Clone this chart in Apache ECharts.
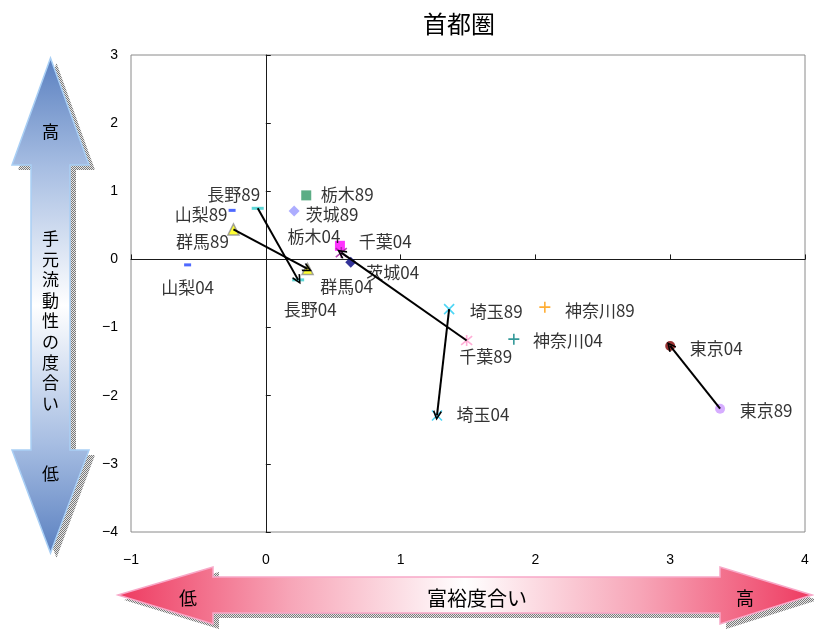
<!DOCTYPE html>
<html>
<head>
<meta charset="utf-8">
<script src="https://cdn.jsdelivr.net/npm/echarts@6/dist/echarts.min.js"></script>
<style>
  html, body { margin: 0; padding: 0; background: #fff; }
  #chart { width: 814px; height: 629px; }
</style>
</head>
<body>
<div id="chart"></div>
<script>
// Prefectures of the capital region, 1989 vs 2004
const prefectures = ['茨城', '栃木', '群馬', '埼玉', '千葉', '東京', '神奈川', '山梨', '長野'];
const wealth1989 = [0.21, 0.30, -0.24, 1.36, 1.49, 3.37, 2.07, -0.25, -0.06];
const liquidity1989 = [0.71, 0.94, 0.44, -0.73, -1.19, -2.19, -0.70, 0.72, 0.75];
const wealth2004 = [0.63, 0.55, 0.31, 1.27, 0.56, 3.00, 1.84, -0.58, 0.24];
const liquidity2004 = [-0.04, 0.20, -0.14, -2.29, 0.10, -1.27, -1.17, -0.08, -0.30];
// prefectures whose shift from 1989 to 2004 is drawn as an arrow
const movedPrefectures = ['群馬', '長野', '千葉', '埼玉', '東京'];
const xTicks = [-1, 0, 1, 2, 3, 4];
const yTicks = [-4, -3, -2, -1, 0, 1, 2, 3];
const yearSuffix = ['89', '04'];

// marker shapes
const SYM_X = 'path://M0,0L10,10M10,0L0,10';
const SYM_STAR = 'path://M1,1L9,9M9,1L1,9M5,0L5,10';
const SYM_PLUS = 'path://M5,0L5,10M0,5L10,5';

const markerStyle = {
  '茨城':   { symbol: 'diamond', size: 11, colors: ['#9999FF', '#000080'] },
  '栃木':   { symbol: 'rect', size: 10, colors: ['#339966', '#FF00FF'] },
  '群馬':   { symbol: 'triangle', size: 11, colors: ['#FFFF00', '#FFFF00'], border: '#8C8C8C' },
  '埼玉':   { symbol: SYM_X, size: 10, colors: ['#22CCF2', '#22CCF2'], stroke: true },
  '千葉':   { symbol: SYM_STAR, size: 11, colors: ['#FF99CC', '#A020A0'], stroke: true },
  '東京':   { symbol: 'circle', size: 10, colors: ['#CC99FF', '#800000'] },
  '神奈川': { symbol: SYM_PLUS, size: 11, colors: ['#FF9900', '#008080'], stroke: true },
  '山梨':   { symbol: 'rect', size: [7, 3], colors: ['#2244FF', '#2244FF'] },
  '長野':   { symbol: 'rect', size: [12, 3], colors: ['#33CCCC', '#33CCCC'] }
};

// label centre relative to the marker centre, [dx, dy] in px
const labelOffset = {
  '栃木89': [41, -1], '茨城89': [38, 3], '長野89': [-24, -14], '山梨89': [-31, 4],
  '群馬89': [-31, 12], '山梨04': [0, 23], '長野04': [12, 30], '群馬04': [39, 18],
  '栃木04': [-26, -9], '千葉04': [44, -11], '茨城04': [42, 10], '埼玉89': [47, 2],
  '神奈川89': [55, 3], '千葉89': [19, 16], '神奈川04': [54, 1], '埼玉04': [46, -1],
  '東京04': [46, 3], '東京89': [46, 2]
};

const LABEL_FONT = '"Noto Sans CJK JP", "Noto Sans", sans-serif';

function makePoint(pref, yearIdx, x, y) {
  const st = markerStyle[pref];
  const name = pref + yearSuffix[yearIdx];
  const color = st.colors[yearIdx];
  const itemStyle = st.stroke
    ? { color: 'rgba(0,0,0,0)', borderColor: color, borderWidth: 1.6 }
    : { color: color, borderColor: st.border || color, borderWidth: st.border ? 1.5 : 0 };
  return {
    name: name,
    value: [x, y],
    symbol: st.symbol,
    symbolSize: st.size,
    itemStyle: itemStyle,
    label: {
      show: true,
      position: 'inside',
      offset: labelOffset[name] || [30, 0],
      formatter: name,
      color: '#000',
      fontSize: 17,
      fontFamily: LABEL_FONT
    }
  };
}

const points = [];
prefectures.forEach((p, i) => {
  points.push(makePoint(p, 0, wealth1989[i], liquidity1989[i]));
  points.push(makePoint(p, 1, wealth2004[i], liquidity2004[i]));
});

const shiftLines = movedPrefectures.map(p => {
  const i = prefectures.indexOf(p);
  return [
    { coord: [wealth1989[i], liquidity1989[i]] },
    { coord: [wealth2004[i], liquidity2004[i]] }
  ];
});

// open (chevron) arrow head, pointing up before rotation
const ARROW_HEAD = 'path://M5,0L10,9L8.6,10.2L5,3.6L1.4,10.2L0,9Z';

const minus = v => String(v).replace('-', '\u2212');

// hatched fill used for the drop shadows of the two big arrows
const hatch = document.createElement('canvas');
hatch.width = 2; hatch.height = 2;
(function () {
  const c = hatch.getContext('2d');
  c.fillStyle = '#E6E6E6'; c.fillRect(0, 0, 2, 2);
  c.fillStyle = '#7A7A7A'; c.fillRect(0, 0, 1, 1); c.fillRect(1, 1, 1, 1);
})();

function shifted(pts, dx, dy) { return pts.map(p => [p[0] + dx, p[1] + dy]); }

const vArrow = [[50.5, 58], [89, 165], [70, 165], [70, 450], [89, 450], [50.5, 553],
                [12, 450], [31, 450], [31, 165], [12, 165]];
const hArrow = [[118, 595], [213, 567], [213, 577], [720, 577], [720, 567], [812, 595],
                [720, 624], [720, 613], [213, 613], [213, 624]];

const JP_FONT = '"Noto Sans CJK JP", sans-serif';

const chart = echarts.init(document.getElementById('chart'), null, { renderer: 'canvas' });
chart.setOption({
  animation: false,
  backgroundColor: '#fff',
  grid: {
    left: 131, right: 9, top: 55, bottom: 97,
    show: true, borderColor: '#8A8A8A', borderWidth: 1, backgroundColor: 'transparent'
  },
  xAxis: [
    {
      type: 'value', min: xTicks[0], max: xTicks[xTicks.length - 1], interval: 1,
      position: 'bottom',
      axisLine: { show: false, onZero: false },
      axisTick: { show: false },
      splitLine: { show: false },
      axisLabel: { formatter: minus, color: '#000', fontSize: 14, margin: 21,
                   fontFamily: 'Liberation Sans, Arial, sans-serif' }
    },
    {
      type: 'value', min: xTicks[0], max: xTicks[xTicks.length - 1], interval: 1,
      position: 'bottom',
      axisLine: { show: true, onZero: true, lineStyle: { color: '#1A1A1A', width: 1 } },
      axisTick: { show: true, inside: true, length: 5, lineStyle: { color: '#1A1A1A' } },
      splitLine: { show: false },
      axisLabel: { show: false }
    }
  ],
  yAxis: [
    {
      type: 'value', min: yTicks[0], max: yTicks[yTicks.length - 1], interval: 1,
      position: 'left',
      axisLine: { show: false, onZero: false },
      axisTick: { show: false },
      splitLine: { show: false },
      axisLabel: { formatter: minus, color: '#000', fontSize: 14, margin: 13,
                   fontFamily: 'Liberation Sans, Arial, sans-serif' }
    },
    {
      type: 'value', min: yTicks[0], max: yTicks[yTicks.length - 1], interval: 1,
      position: 'left',
      axisLine: { show: true, onZero: true, lineStyle: { color: '#1A1A1A', width: 1 } },
      axisTick: { show: true, inside: true, length: 5, lineStyle: { color: '#1A1A1A' } },
      splitLine: { show: false },
      axisLabel: { show: false }
    }
  ],
  series: [
    {
      type: 'scatter',
      xAxisIndex: 0, yAxisIndex: 0,
      data: points,
      z: 3,
      emphasis: { disabled: true },
      markLine: {
        silent: true,
        animation: false,
        symbol: ['none', ARROW_HEAD],
        symbolSize: [9, 10],
        lineStyle: { color: '#000', width: 2, type: 'solid' },
        label: { show: false },
        emphasis: { disabled: true },
        data: shiftLines
      }
    }
  ],
  graphic: [
    // title
    { type: 'text', x: 459, y: 24, z: 10,
      style: { text: '首都圏', fontSize: 24, fontFamily: JP_FONT, fill: '#000',
               align: 'center', verticalAlign: 'middle' } },
    // vertical arrow: liquidity
    { type: 'polygon', z: 1, shape: { points: shifted(vArrow, 6, 5) },
      style: { fill: { image: hatch, repeat: 'repeat' } } },
    { type: 'polygon', z: 2, shape: { points: vArrow },
      style: {
        fill: { type: 'linear', x: 0, y: 0, x2: 0, y2: 1, colorStops: [
          { offset: 0, color: '#5A80C0' }, { offset: 0.22, color: '#A6BDE2' },
          { offset: 0.5, color: '#FFFFFF' }, { offset: 0.78, color: '#A6BDE2' },
          { offset: 1, color: '#5A80C0' } ] },
        stroke: '#A9CFF5', lineWidth: 1.5 } },
    { type: 'text', x: 50.5, y: 132, z: 3,
      style: { text: '高', fontSize: 17, fontFamily: JP_FONT, fill: '#000',
               align: 'center', verticalAlign: 'middle' } },
    { type: 'text', x: 50.5, y: 321, z: 3,
      style: { text: '手\n元\n流\n動\n性\nの\n度\n合\nい', fontSize: 17, lineHeight: 20.6,
               fontFamily: JP_FONT, fill: '#000', align: 'center', verticalAlign: 'middle' } },
    { type: 'text', x: 50.5, y: 474, z: 3,
      style: { text: '低', fontSize: 17, fontFamily: JP_FONT, fill: '#000',
               align: 'center', verticalAlign: 'middle' } },
    // horizontal arrow: wealth
    { type: 'polygon', z: 1, shape: { points: shifted(hArrow, 6, 5) },
      style: { fill: { image: hatch, repeat: 'repeat' } } },
    { type: 'polygon', z: 2, shape: { points: hArrow },
      style: {
        fill: { type: 'linear', x: 0, y: 0, x2: 1, y2: 0, colorStops: [
          { offset: 0, color: '#EE3A60' }, { offset: 0.25, color: '#F7A6B8' },
          { offset: 0.5, color: '#FFFFFF' }, { offset: 0.75, color: '#F7A6B8' },
          { offset: 1, color: '#EE3A60' } ] },
        stroke: '#F8A8C8', lineWidth: 1.5 } },
    { type: 'text', x: 188, y: 598, z: 3,
      style: { text: '低', fontSize: 18, fontFamily: JP_FONT, fill: '#000',
               align: 'center', verticalAlign: 'middle' } },
    { type: 'text', x: 477, y: 598, z: 3,
      style: { text: '富裕度合い', fontSize: 20, fontFamily: JP_FONT, fill: '#000',
               align: 'center', verticalAlign: 'middle' } },
    { type: 'text', x: 745, y: 598, z: 3,
      style: { text: '高', fontSize: 18, fontFamily: JP_FONT, fill: '#000',
               align: 'center', verticalAlign: 'middle' } }
  ]
});
</script>
</body>
</html>
